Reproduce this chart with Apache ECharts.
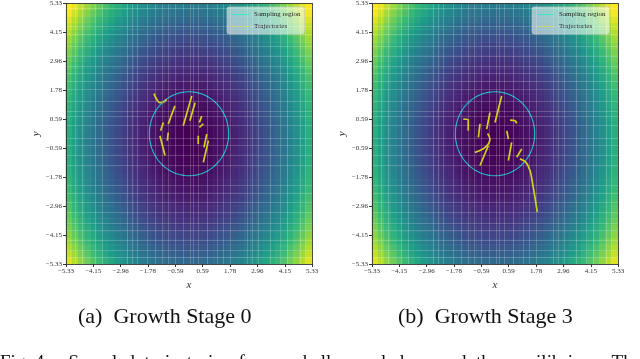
<!DOCTYPE html>
<html>
<head>
  <meta charset="utf-8">
  <title>Growth stages</title>
  <script src="https://cdn.jsdelivr.net/npm/echarts@6/dist/echarts.min.js"></script>
  <style>
    body { margin: 0; background: #fff; }
    #main { width: 640px; height: 359px; }
  </style>
</head>
<body>
<div id="main"></div>
<script>
  // potential field profiles (left->right, bottom->top), 40 cells each
  var potX = [44.5, 40.0, 35.8, 31.8, 28.1, 24.6, 21.3, 18.3, 15.5, 12.9, 10.5, 8.4, 6.5, 4.9, 3.6, 2.4, 1.4, 0.8, 0.3, 0.0,
    0.0, 0.3, 0.8, 1.4, 2.4, 3.6, 4.9, 6.5, 8.4, 10.5, 12.9, 15.5, 18.3, 21.3, 24.6, 28.1, 31.8, 35.8, 40.0, 44.5];
  var potY = [24.0, 21.4, 19.1, 16.8, 14.7, 12.8, 10.9, 9.3, 7.7, 6.3, 5.1, 3.9, 3.0, 2.1, 1.4, 0.9, 0.4, 0.2, 0.0, 0.0,
    0.2, 0.4, 0.9, 1.4, 2.1, 3.0, 3.9, 5.1, 6.3, 7.7, 9.3, 10.9, 12.8, 14.7, 16.8, 19.1, 21.4, 24.0, 26.6, 29.4];

  var tickValues = [-5.33, -4.15, -2.96, -1.78, -0.59, 0.59, 1.78, 2.96, 4.15, 5.33];
  var tickLabels = ['\u22125.33', '\u22124.15', '\u22122.96', '\u22121.78', '\u22120.59', '0.59', '1.78', '2.96', '4.15', '5.33'];

  // faint mesh lines over the field
  var meshX = [-4.94, -4.64, -4.07, -3.77, -2.69, -2.47, -2.25, -1.82, -1.47, -1.17, -0.91, -0.61, -0.26, 0.04, 0.17, 0.39,
    0.78, 1.21, 1.47, 1.78, 2.51, 2.73, 2.99, 3.51, 3.94, 4.25, 4.81, 5.03];
  var meshY = [5.13, 4.39, 4.07, 3.58, 3.17, 2.77, 2.48, 2.16, 1.83, 1.34, 0.94, 0.73, 0.33, -0.2, -0.49, -0.89, -1.30,
    -2.12, -2.44, -2.81, -3.21, -3.66, -3.95, -4.35, -4.76, -5.04];

  var circleCenter = [0, 0];
  var circleRadius = 1.72;

  var trajA = [
    [[-1.52, 1.64], [-1.40, 1.41], [-1.26, 1.27], [-1.08, 1.31], [-0.97, 1.41]],
    [[-0.61, 1.14], [-0.90, 0.40]],
    [[0.12, 1.55], [-0.25, 0.33]],
    [[0.26, 1.27], [0.04, 0.53]],
    [[-1.11, 0.46], [-1.23, 0.12]],
    [[-0.90, 0.05], [-0.94, -0.28]],
    [[-1.26, -0.08], [-1.04, -0.89]],
    [[0.55, 0.73], [0.45, 0.46]],
    [[0.62, 0.40], [0.45, 0.26]],
    [[0.40, -0.08], [0.40, -0.42]],
    [[0.84, -0.28], [0.62, -1.17]],
    [[0.77, -0.01], [0.65, -0.56]]
  ];
  var trajB = [
    [[0.29, 1.55], [0.00, 0.46]],
    [[-0.22, 0.87], [-0.36, 0.19]],
    [[-1.37, 0.60], [-1.16, 0.56], [-1.16, 0.12]],
    [[-0.65, 0.40], [-0.72, -0.15]],
    [[-0.32, 0.01], [-0.22, -0.22], [-0.43, -0.56], [-0.87, -0.76]],
    [[-0.29, -0.49], [-0.65, -1.30]],
    [[0.65, 0.56], [0.87, 0.53], [0.94, 0.42]],
    [[0.51, 0.12], [0.58, -0.22]],
    [[0.72, -0.35], [0.58, -1.10]],
    [[1.16, -0.62], [0.94, -0.96]],
    [[1.08, -1.03], [1.34, -1.17], [1.52, -1.51], [1.63, -2.05], [1.73, -2.59], [1.83, -3.20]]
  ];
  var labelPosA = [-1.18, 1.21];
  var labelPosB = [-1.23, 1.21];

  var viridis = ['#440154', '#482878', '#3e4989', '#31688e', '#26828e', '#1f9e89', '#35b779', '#6ece58', '#b5de2b', '#fde725'];
  var serif = 'Liberation Serif';

  var cells = [];
  for (var i = 0; i < potX.length; i++) {
    for (var j = 0; j < potY.length; j++) {
      cells.push([i, j, potX[i] + potY[j]]);
    }
  }
  var cats = potX.map(function (v, k) { return k; });

  var circlePts = [];
  for (var a = 0; a <= 180; a++) {
    var t = a / 180 * Math.PI * 2;
    circlePts.push([circleCenter[0] + circleRadius * Math.cos(t), circleCenter[1] + circleRadius * Math.sin(t)]);
  }

  var meshLines = meshX.map(function (v) { return {xAxis: v}; })
    .concat(meshY.map(function (v) { return {yAxis: v}; }));

  function tickFmt(v) {
    for (var k = 0; k < tickValues.length; k++) {
      if (Math.abs(tickValues[k] - v) < 1e-6) return tickLabels[k];
    }
    return '';
  }

  var solidIcon = 'path://M0,0h17v1h-17z';
  var dashIcon = 'path://M0,0h4v1h-4z M6.5,0h4v1h-4z M13,0h4v1h-4z';

  var grids = [], xAxes = [], yAxes = [], series = [], legends = [];

  function addPanel(g, left, traj, labelPos, legendLeft) {
    grids.push({left: left, top: 2, width: 246, height: 262});
    xAxes.push({
      gridIndex: g, type: 'category', data: cats, position: 'top', z: 10,
      axisLine: {show: true, onZero: false, lineStyle: {color: '#222', width: 0.8}},
      axisTick: {show: false}, axisLabel: {show: false}, splitLine: {show: false}
    });
    xAxes.push({
      gridIndex: g, type: 'value', min: -5.33, max: 5.33, position: 'bottom', z: 10,
      axisLine: {show: true, onZero: false, lineStyle: {color: '#222', width: 0.8}},
      axisTick: {show: true, length: 3, customValues: tickValues, lineStyle: {color: '#333'}},
      axisLabel: {customValues: tickValues, formatter: tickFmt, fontSize: 7, color: '#333', fontFamily: serif, margin: 4},
      splitLine: {show: false},
      name: 'x', nameLocation: 'middle', nameGap: 15,
      nameTextStyle: {fontSize: 11, fontStyle: 'italic', fontFamily: serif, color: '#333'}
    });
    yAxes.push({
      gridIndex: g, type: 'category', data: cats, position: 'right', z: 10,
      axisLine: {show: true, onZero: false, lineStyle: {color: '#222', width: 0.8}},
      axisTick: {show: false}, axisLabel: {show: false}, splitLine: {show: false}
    });
    yAxes.push({
      gridIndex: g, type: 'value', min: -5.33, max: 5.33, position: 'left', z: 10,
      axisLine: {show: true, onZero: false, lineStyle: {color: '#222', width: 0.8}},
      axisTick: {show: true, length: 3, customValues: tickValues, lineStyle: {color: '#333'}},
      axisLabel: {customValues: tickValues, formatter: tickFmt, fontSize: 7, color: '#333', fontFamily: serif, margin: 4},
      splitLine: {show: false},
      name: 'y', nameLocation: 'middle', nameGap: 22, nameRotate: 90,
      nameTextStyle: {fontSize: 11, fontStyle: 'italic', fontFamily: serif, color: '#333'}
    });

    series.push({
      type: 'heatmap', xAxisIndex: 2 * g, yAxisIndex: 2 * g, data: cells, z: 1,
      emphasis: {disabled: true}, progressive: 0
    });
    series.push({
      name: 'Sampling region', type: 'line', xAxisIndex: 2 * g + 1, yAxisIndex: 2 * g + 1,
      data: circlePts, symbol: 'none', z: 4,
      lineStyle: {color: '#1fbfcc', width: 1.1},
      markLine: {
        silent: true, symbol: ['none', 'none'], label: {show: false}, animation: false,
        lineStyle: {color: 'rgba(255,255,255,0.2)', width: 1, type: 'solid'},
        data: meshLines
      }
    });
    traj.forEach(function (pts) {
      series.push({
        name: 'Trajectories', type: 'line', xAxisIndex: 2 * g + 1, yAxisIndex: 2 * g + 1,
        data: pts, symbol: 'none', smooth: 0.4, z: 5,
        lineStyle: {color: '#d2d21e', width: 1.7}
      });
    });
    series.push({
      name: 'level', type: 'scatter', xAxisIndex: 2 * g + 1, yAxisIndex: 2 * g + 1,
      data: [labelPos], symbolSize: 1, z: 6, itemStyle: {color: 'rgba(0,0,0,0)'},
      label: {show: true, position: 'inside', formatter: '0.00', rotate: 40, fontSize: 5, color: '#3a78b8', fontFamily: serif}
    });
    legends.push({
      left: legendLeft, top: 7, orient: 'vertical', itemWidth: 17, itemHeight: 2, itemGap: 5,
      padding: [4, 4, 4, 5], backgroundColor: 'rgba(255,255,255,0.55)', borderColor: '#cccccc',
      borderWidth: 0.6, borderRadius: 2,
      textStyle: {fontSize: 7, fontFamily: serif, color: '#222'},
      data: [
        {name: 'Sampling region', icon: solidIcon, itemStyle: {color: '#3fe6cf'}},
        {name: 'Trajectories', icon: dashIcon, itemStyle: {color: '#d2d21e'}}
      ]
    });
  }

  addPanel(0, 66, trajA, labelPosA, 227);
  addPanel(1, 372, trajB, labelPosB, 532);

  var chart = echarts.init(document.getElementById('main'));
  chart.setOption({
    animation: false,
    grid: grids,
    xAxis: xAxes,
    yAxis: yAxes,
    legend: legends,
    visualMap: {
      show: false, min: 0, max: 72, seriesIndex: [0, series.length - (trajB.length + 3)],
      inRange: {color: viridis}
    },
    series: series,
    graphic: [
      {type: 'text', left: 78, top: 306, style: {text: '(a)  Growth Stage 0', font: '22px "Liberation Serif"', fill: '#111'}},
      {type: 'text', left: 398, top: 306, style: {text: '(b)  Growth Stage 3', font: '22px "Liberation Serif"', fill: '#111'}},
      {type: 'text', left: 0, top: 354, style: {text: 'Fig. 4:    Sampled  trajectories  from  a  ball  sampled  around  the  equilibrium.  Th', font: '19px "Liberation Serif"', fill: '#111'}}
    ]
  });
</script>
</body>
</html>
